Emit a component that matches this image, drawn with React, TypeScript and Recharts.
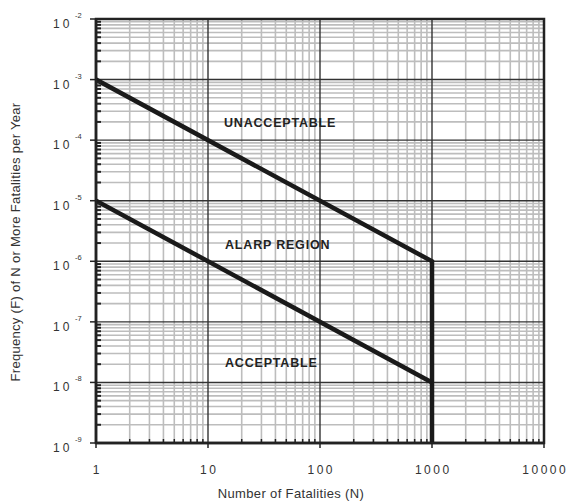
import React from 'react';
import {
  ComposedChart,
  Line,
  Scatter,
  XAxis,
  YAxis,
  CartesianGrid,
  ReferenceArea,
  Customized,
} from 'recharts';

// ---- data ----
const xDecades = [1, 10, 100, 1000, 10000];
const yDecades = [1e-9, 1e-8, 1e-7, 1e-6, 1e-5, 1e-4, 1e-3, 1e-2];
const xTickLabels = ['1', '10', '100', '1000', '10000'];
const yTickExponents = ['-9', '-8', '-7', '-6', '-5', '-4', '-3', '-2'];
const minorMultipliers = [2, 3, 4, 5, 6, 7, 8, 9];
const xTitle = 'Number of Fatalities (N)';
const yTitle = 'Frequency (F) of N or More Fatalities per Year';

const upperLimit = [
  { x: 1, y: 1e-3 },
  { x: 1000, y: 1e-6 },
  { x: 1000, y: 1e-9 },
];
const lowerLimit = [
  { x: 1, y: 1e-5 },
  { x: 1000, y: 1e-8 },
];
const regionLabels = [
  { x: 13.9, y: 1.65e-4, text: 'UNACCEPTABLE' },
  { x: 14.2, y: 1.6e-6, text: 'ALARP REGION' },
  { x: 14.2, y: 1.8e-8, text: 'ACCEPTABLE' },
];

const xMinor: number[] = [];
xDecades.slice(0, -1).forEach((d) => minorMultipliers.forEach((m) => xMinor.push(d * m)));
const yMinor: number[] = [];
yDecades.slice(0, -1).forEach((d) => minorMultipliers.forEach((m) => yMinor.push(d * m)));

const xAllTicks = [...xDecades, ...xMinor].sort((a, b) => a - b);
const yAllTicks = [...yDecades, ...yMinor].sort((a, b) => a - b);

const FONT = '"Liberation Sans", Arial, Helvetica, sans-serif';
const DARK = '#222222';

const CHART_W = 568;
const CHART_H = 502;
const MARGIN = { top: 19, right: 24, bottom: 0, left: 0 };
const Y_AXIS_W = 96;
const X_AXIS_H = 59;

const isDecade = (v: number) => {
  const l = Math.log10(v);
  return Math.abs(l - Math.round(l)) < 1e-6;
};

const XTick = (props: any) => {
  const { x, y, payload } = props;
  const v = payload.value;
  if (isDecade(v)) {
    const idx = xDecades.findIndex((d) => Math.abs(d - v) / d < 1e-6);
    return (
      <g>
        <line x1={x} y1={y} x2={x} y2={y + 5} stroke={DARK} strokeWidth={1.5} />
        <text
          x={x + 1.25}
          y={y + 31}
          textAnchor="middle"
          fontFamily={FONT}
          fontSize={12}
          letterSpacing={2.5}
          fill="#333"
        >
          {xTickLabels[idx]}
        </text>
      </g>
    );
  }
  return <line x1={x} y1={y} x2={x} y2={y - 4} stroke={DARK} strokeWidth={1.5} />;
};

const YTick = (props: any) => {
  const { x, y, payload } = props;
  const v = payload.value;
  if (isDecade(v)) {
    const idx = yDecades.findIndex((d) => Math.abs(d - v) / d < 1e-6);
    return (
      <g>
        <line x1={x - 6} y1={y} x2={x} y2={y} stroke={DARK} strokeWidth={1.5} />
        <text x={x - 43} y={y + 9} fontFamily={FONT} fontSize={12} letterSpacing={3} fill="#333">
          10
        </text>
        <text x={x - 21} y={y - 1} fontFamily={FONT} fontSize={7.5} fill="#333">
          {yTickExponents[idx]}
        </text>
      </g>
    );
  }
  return <line x1={x} y1={y} x2={x + 5} y2={y} stroke={DARK} strokeWidth={2} />;
};

const AxisTitles = () => {
  const plotLeft = MARGIN.left + Y_AXIS_W;
  const plotTop = MARGIN.top;
  const plotH = CHART_H - MARGIN.top - MARGIN.bottom - X_AXIS_H;
  const plotBottom = plotTop + plotH;
  const yx = 20;
  const yy = plotTop + plotH / 2 + 11;
  return (
    <g>
      <text
        x={plotLeft + 195}
        y={plotBottom + 55}
        textAnchor="middle"
        fontFamily={FONT}
        fontSize={13}
        letterSpacing={0.35}
        fill="#333"
      >
        {xTitle}
      </text>
      <text
        x={yx}
        y={yy}
        transform={`rotate(-90, ${yx}, ${yy})`}
        textAnchor="middle"
        fontFamily={FONT}
        fontSize={13}
        letterSpacing={0.3}
        fill="#333"
      >
        {yTitle}
      </text>
    </g>
  );
};

const RegionText = (props: any) => {
  const { cx, cy, payload } = props;
  return (
    <text
      x={cx}
      y={cy}
      fontFamily={FONT}
      fontSize={12.5}
      fontWeight="bold"
      letterSpacing={0.8}
      fill={DARK}
    >
      {payload.text}
    </text>
  );
};

export default function App() {
  return (
    <div style={{ position: 'absolute', left: 0, top: 0, background: '#fff' }}>
      <ComposedChart width={CHART_W} height={CHART_H} margin={MARGIN}>
        <CartesianGrid
          horizontalValues={yMinor}
          verticalValues={xMinor}
          stroke="#bdbdbd"
          strokeWidth={1.6}
        />
        <CartesianGrid
          horizontalValues={yDecades}
          verticalValues={xDecades}
          stroke="#333"
          strokeWidth={1.4}
        />
        <XAxis
          dataKey="x"
          type="number"
          scale="log"
          domain={[1, 10000]}
          allowDataOverflow
          ticks={xAllTicks}
          interval={0}
          tickSize={0}
          tickMargin={0}
          tickLine={false}
          axisLine={{ stroke: DARK, strokeWidth: 2.5 }}
          tick={<XTick />}
          height={X_AXIS_H}
        />
        <YAxis
          dataKey="y"
          type="number"
          scale="log"
          domain={[1e-9, 1e-2]}
          allowDataOverflow
          ticks={yAllTicks}
          interval={0}
          tickSize={0}
          tickMargin={0}
          tickLine={false}
          axisLine={{ stroke: DARK, strokeWidth: 2.5 }}
          tick={<YTick />}
          width={Y_AXIS_W}
        />
        <ReferenceArea
          x1={1}
          x2={10000}
          y1={1e-9}
          y2={1e-2}
          fill="none"
          fillOpacity={0}
          stroke={DARK}
          strokeWidth={2.5}
        />
        <Line
          data={upperLimit}
          dataKey="y"
          type="linear"
          stroke="#1a1a1a"
          strokeWidth={4.5}
          dot={false}
          activeDot={false}
          isAnimationActive={false}
          strokeLinejoin="miter"
        />
        <Line
          data={lowerLimit}
          dataKey="y"
          type="linear"
          stroke="#1a1a1a"
          strokeWidth={4.5}
          dot={false}
          activeDot={false}
          isAnimationActive={false}
        />
        <Scatter
          data={regionLabels}
          dataKey="y"
          shape={<RegionText />}
          isAnimationActive={false}
        />
        <Customized component={<AxisTitles />} />
      </ComposedChart>
    </div>
  );
}
